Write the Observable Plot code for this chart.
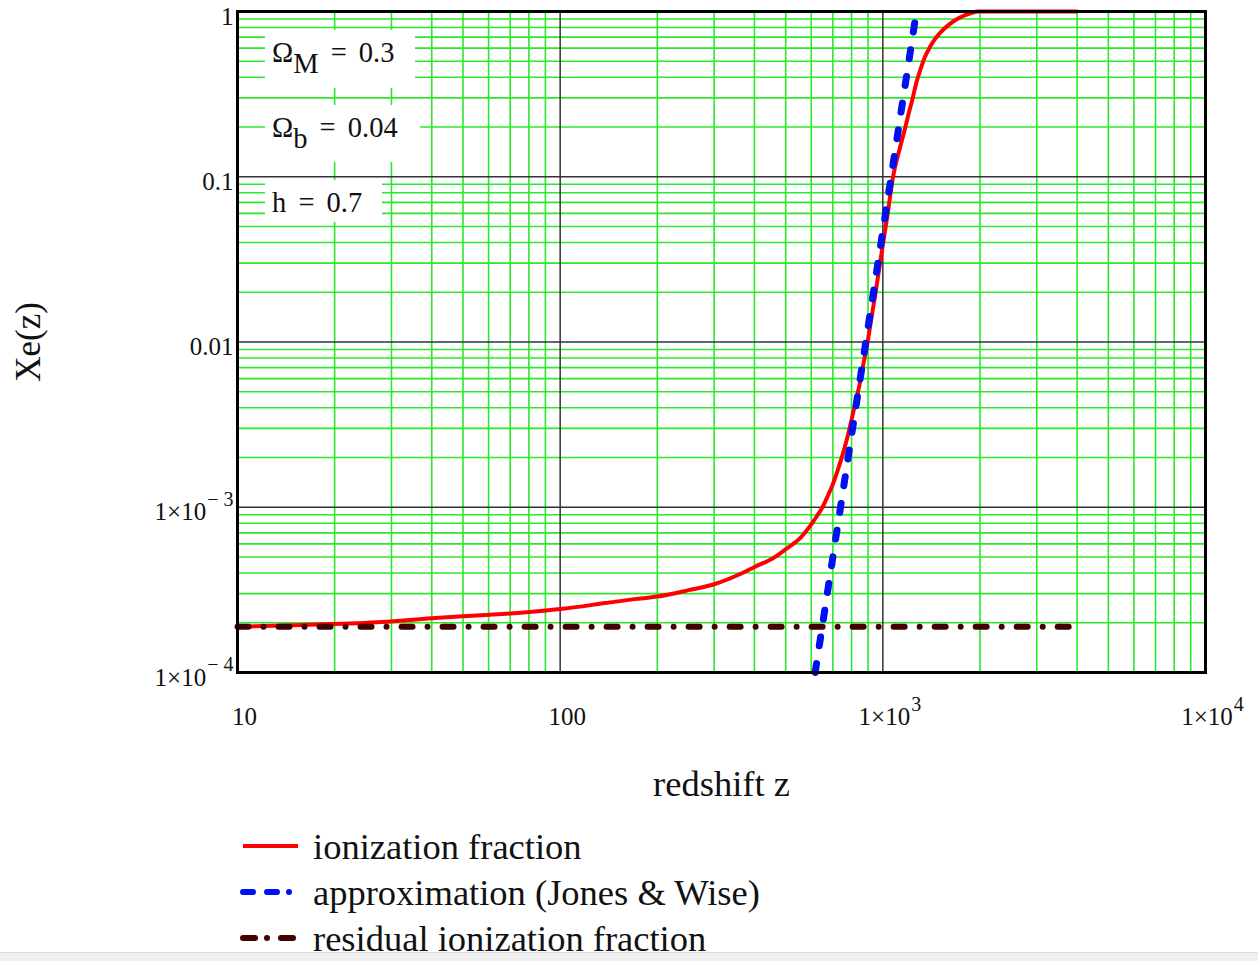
<!DOCTYPE html>
<html>
<head>
<meta charset="utf-8">
<script src="https://cdn.jsdelivr.net/npm/d3@7"></script>
<script src="https://cdn.jsdelivr.net/npm/@observablehq/plot@0.6"></script>
<style>
  html, body { margin: 0; padding: 0; background: #fff; overflow: hidden; width: 1258px; height: 961px; }
  #wrap { position: relative; width: 1258px; }
  .note { position: absolute; background: #fff; font-family: "Liberation Serif", serif; font-size: 28.5px; color: #111; white-space: nowrap; word-spacing: 5px; }
  .note sub { font-size: 28.5px; vertical-align: -11px; line-height: 0; word-spacing: 0; }
  #legend { font-family: "Liberation Serif", serif; font-size: 36.5px; color: #111; margin-top: -2px; }
  .row { height: 46px; display: flex; align-items: center; padding-left: 240px; }
  .row svg { margin-right: 13px; }
  #bar { position: fixed; left: 0; bottom: 0; width: 1258px; height: 8px; background: #efefef; border-top: 1px solid #dcdcdc; }
</style>
</head>
<body>
<div id="wrap"></div>
<div id="bar"></div>
<script>
// ---- data ----
const zTicks = [10, 100, 1000, 10000];
const zTickLabels = ["10", "100", "1×10^3", "1×10^4"];
const xeTicks = [1e-4, 1e-3, 0.01, 0.1, 1];
const xeTickLabels = ["1×10^− 4", "1×10^− 3", "0.01", "0.1", "1"];

// ionization fraction (red)
const ionZ  = [10, 16, 28, 40, 57, 74, 100, 138, 170, 200, 250, 300, 360, 400, 460, 500, 556, 600, 625, 650, 675, 700, 725, 757, 780, 803, 825, 848, 872, 897, 922, 948, 985, 1030, 1076, 1130, 1175, 1205, 1233, 1270, 1310, 1350, 1400, 1450, 1507, 1600, 1700, 1800, 1900, 1964, 2500, 3000, 4000];
const ionXe = [1.89e-4, 1.94e-4, 2.02e-4, 2.13e-4, 2.22e-4, 2.29e-4, 2.42e-4, 2.63e-4, 2.78e-4, 2.88e-4, 3.15e-4, 3.42e-4, 3.93e-4, 4.35e-4, 4.96e-4, 5.57e-4, 6.55e-4, 7.88e-4, 8.85e-4, 1.0e-3, 1.17e-3, 1.38e-3, 1.68e-3, 2.2e-3, 2.75e-3, 3.5e-3, 4.4e-3, 5.6e-3, 7.5e-3, 1.0e-2, 1.4e-2, 1.95e-2, 3.2e-2, 5.6e-2, 0.1, 0.15, 0.2, 0.245, 0.29, 0.37, 0.45, 0.53, 0.61, 0.68, 0.745, 0.83, 0.9, 0.95, 0.985, 1.0, 1.0, 1.0, 1.0];

// approximation (Jones & Wise) (blue)
const apxZ  = [617, 650, 700, 750, 800, 850, 900, 950, 1000, 1050, 1100, 1150, 1200, 1250, 1271];
const apxXe = [1.0e-4, 1.94e-4, 4.98e-4, 1.2e-3, 2.73e-3, 5.92e-3, 1.23e-2, 2.44e-2, 4.7e-2, 8.76e-2, 0.158, 0.279, 0.48, 0.808, 1.0];

// residual ionization fraction (dark brown)
const resZ  = [10, 4000];
const resXe = [1.89e-4, 1.89e-4];

// ---- build ----
const ion = ionZ.map((z, i) => ({z, xe: ionXe[i]}));
const apx = apxZ.map((z, i) => ({z, xe: apxXe[i]}));
const res = resZ.map((z, i) => ({z, xe: resXe[i]}));
const xLab = new Map(zTicks.map((t, i) => [t, zTickLabels[i]]));
const yLab = new Map(xeTicks.map((t, i) => [t, xeTickLabels[i]]));

const xLog = d3.scaleLog().domain([10, 1e4]);
const yLog = d3.scaleLog().domain([1e-4, 1]);
const minorX = xLog.ticks().filter(t => !zTicks.includes(t));
const minorY = yLog.ticks().filter(t => !xeTicks.some(m => Math.abs(m - t) / m < 1e-9));

const W = 1258, H = 825;
const green = "#2be82b";

const chart = Plot.plot({
  width: W, height: H,
  marginLeft: 237, marginRight: 53, marginTop: 11, marginBottom: H - 672,
  x: {type: "log", domain: [10, 1e4]},
  y: {type: "log", domain: [1e-4, 1]},
  style: {fontFamily: "Liberation Serif, serif", background: "white", color: "#111", overflow: "visible"},
  marks: [
    Plot.gridX(minorX, {stroke: green, strokeOpacity: 1, strokeWidth: 1.6}),
    Plot.gridY(minorY, {stroke: green, strokeOpacity: 1, strokeWidth: 1.6}),
    Plot.gridX(zTicks, {stroke: "#333", strokeOpacity: 1, strokeWidth: 1.5}),
    Plot.gridY(xeTicks, {stroke: "#333", strokeOpacity: 1, strokeWidth: 1.5}),
    Plot.line(ion, {x: "z", y: "xe", stroke: "#ff0000", strokeWidth: 4, curve: "monotone-x"}),
    Plot.line(res, {x: "z", y: "xe", stroke: "#420000", strokeWidth: 6, strokeDasharray: "11,15,0.01,15", strokeLinecap: "round"}),
    Plot.line(apx, {x: "z", y: "xe", stroke: "#0010f0", strokeWidth: 7, strokeDasharray: "9,18", strokeLinecap: "round"}),
    Plot.frame({stroke: "black", strokeWidth: 3}),
    Plot.axisX(zTicks, {tickSize: 0, tickPadding: 35, fontSize: 25, dx: 7, tickFormat: d => xLab.get(d), label: null}),
    Plot.axisY(xeTicks, {tickSize: 0, tickPadding: 4, fontSize: 25, dy: 5, tickFormat: d => yLab.get(d), label: null}),
    Plot.text(["redshift z"], {text: d => d, frameAnchor: "bottom", dy: 123, fontSize: 36.5}),
    Plot.text(["Xe(z)"], {text: d => d, frameAnchor: "left", textAnchor: "middle", dx: -209, rotate: -90, fontSize: 35})
  ]
});

// superscripts for 1×10^n tick labels
const NS = "http://www.w3.org/2000/svg";
chart.querySelectorAll('[aria-label$="tick label"] text').forEach(t => {
  const s = t.textContent;
  if (!s.includes("^")) return;
  const [base, sup] = s.split("^");
  t.textContent = "";
  const a = document.createElementNS(NS, "tspan");
  a.textContent = base;
  const b = document.createElementNS(NS, "tspan");
  b.textContent = sup;
  b.setAttribute("font-size", "20");
  b.setAttribute("dy", "-0.72em");
  b.setAttribute("dx", "1");
  t.append(a, b);
});

const wrap = document.getElementById("wrap");
wrap.appendChild(chart);

// parameter notes
const notes = [
  {html: "Ω<sub>M</sub> = 0.3", left: 265, top: 30, w: 150, h: 58, lh: 46},
  {html: "Ω<sub>b</sub> = 0.04", left: 265, top: 105, w: 155, h: 57, lh: 45},
  {html: "h = 0.7", left: 265, top: 180, w: 117, h: 42, lh: 46}
];
notes.forEach(n => {
  const d = document.createElement("div");
  d.className = "note";
  d.innerHTML = n.html;
  Object.assign(d.style, {left: n.left + "px", top: n.top + "px", width: n.w + "px", height: n.h + "px",
    lineHeight: n.lh + "px", paddingLeft: "7px", boxSizing: "border-box"});
  wrap.appendChild(d);
});

// legend
const legendItems = [
  {label: "ionization fraction", color: "#ff0000", width: 4, dash: null, cap: "butt"},
  {label: "approximation (Jones & Wise)", color: "#0010f0", width: 6, dash: "10,14,10,12,0.01,30", cap: "round"},
  {label: "residual ionization fraction", color: "#420000", width: 6, dash: "12,12,0.01,14,12,20", cap: "round"}
];
const legend = document.createElement("div");
legend.id = "legend";
legendItems.forEach(it => {
  const row = document.createElement("div");
  row.className = "row";
  const sw = d3.create("svg").attr("width", 60).attr("height", 46);
  sw.append("line").attr("x1", 3).attr("x2", 58).attr("y1", 23).attr("y2", 23)
    .attr("stroke", it.color).attr("stroke-width", it.width)
    .attr("stroke-linecap", it.cap).attr("stroke-dasharray", it.dash);
  row.appendChild(sw.node());
  const span = document.createElement("span");
  span.textContent = it.label;
  row.appendChild(span);
  legend.appendChild(row);
});
wrap.appendChild(legend);
</script>
</body>
</html>
